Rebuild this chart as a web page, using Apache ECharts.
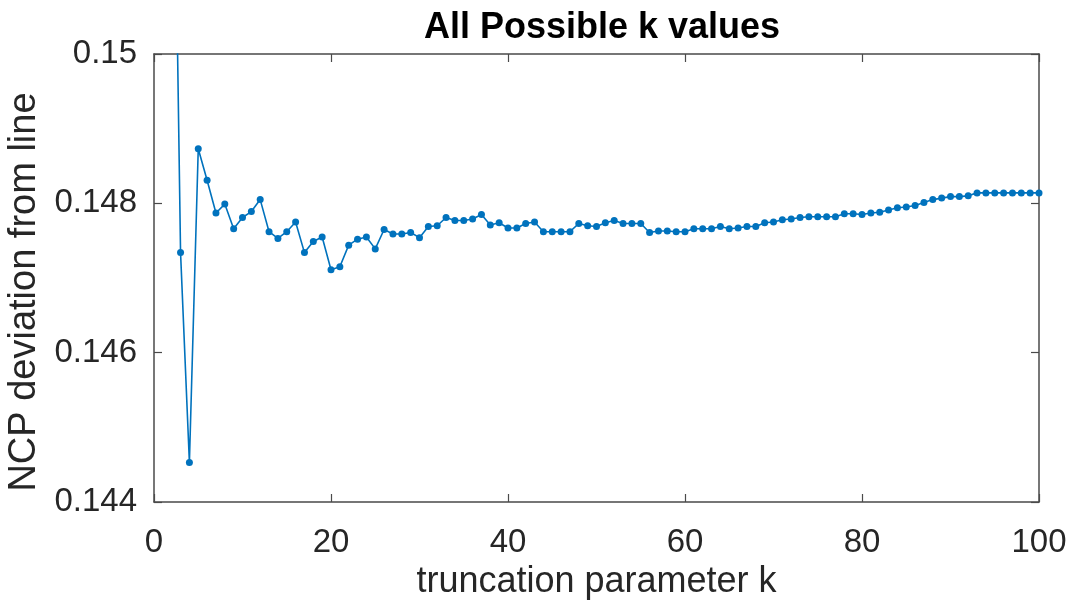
<!DOCTYPE html>
<html>
<head>
<meta charset="utf-8">
<script src="https://cdn.jsdelivr.net/npm/echarts@6/dist/echarts.min.js"></script>
<style>
  html, body { margin: 0; padding: 0; background: #fff; }
  #chart { width: 1070px; height: 608px; }
</style>
</head>
<body>
<div id="chart"></div>
<script>
// truncation parameter k
const kValues = [
  2, 3, 4, 5, 6, 7, 8, 9, 10, 11, 12, 13, 14, 15, 16, 17, 18, 19, 20,
  21, 22, 23, 24, 25, 26, 27, 28, 29, 30, 31, 32, 33, 34, 35, 36, 37, 38, 39, 40,
  41, 42, 43, 44, 45, 46, 47, 48, 49, 50, 51, 52, 53, 54, 55, 56, 57, 58, 59, 60,
  61, 62, 63, 64, 65, 66, 67, 68, 69, 70, 71, 72, 73, 74, 75, 76, 77, 78, 79, 80,
  81, 82, 83, 84, 85, 86, 87, 88, 89, 90, 91, 92, 93, 94, 95, 96, 97, 98, 99, 100
];

// NCP deviation from line for each k
const deviation = [
  0.15530, 0.14734, 0.14453, 0.14873, 0.14831, 0.14787, 0.14799, 0.14766, 0.14781,
  0.14789, 0.14805, 0.14762, 0.14753, 0.14762, 0.14775, 0.14734, 0.14749, 0.14755, 0.14711,
  0.14715, 0.14744, 0.14752, 0.14755, 0.14739, 0.14765, 0.14759, 0.14759, 0.14761, 0.14754,
  0.14769, 0.14770, 0.14781, 0.14777, 0.14777, 0.14779, 0.14785, 0.14771, 0.14774, 0.14767,
  0.14767, 0.14773, 0.14775, 0.14762, 0.14762, 0.14762, 0.14762, 0.14773, 0.14770, 0.14769,
  0.14774, 0.14777, 0.14773, 0.14773, 0.14773, 0.14761, 0.14763, 0.14763, 0.14762, 0.14762,
  0.14766, 0.14766, 0.14766, 0.14769, 0.14766, 0.14767, 0.14769, 0.14769, 0.14774, 0.14775,
  0.14778, 0.14779, 0.14781, 0.14782, 0.14782, 0.14782, 0.14782, 0.14786, 0.14786, 0.14785,
  0.14787, 0.14788, 0.14791, 0.14794, 0.14795, 0.14797, 0.14801, 0.14805, 0.14807, 0.14809,
  0.14809, 0.14810, 0.14814, 0.14814, 0.14814, 0.14814, 0.14814, 0.14814, 0.14814, 0.14814
];

const xTicks = [0, 20, 40, 60, 80, 100];
const yTicks = [0.144, 0.146, 0.148, 0.15];

const titleText = 'All Possible k values';
const xLabel = 'truncation parameter k';
const yLabel = 'NCP deviation from line';

const FONT = '"Liberation Sans", Arial, Helvetica, sans-serif';
const AXIS_COLOR = '#4a4a4a';
const TEXT_COLOR = '#262626';
const LINE_COLOR = '#0072BD';

const points = kValues.map((k, i) => [k, deviation[i]]);

const chart = echarts.init(document.getElementById('chart'), null, { renderer: 'canvas' });

const boxAxisLine = { show: true, onZero: false, lineStyle: { color: AXIS_COLOR, width: 1.5 } };
const boxTick = { show: true, inside: true, length: 8, lineStyle: { color: AXIS_COLOR, width: 1.2 } };

chart.setOption({
  animation: false,
  backgroundColor: '#ffffff',
  title: {
    text: titleText,
    left: 597,
    textAlign: 'center',
    top: 5,
    textStyle: { fontFamily: FONT, fontSize: 36, fontWeight: 'bold', color: '#000000' }
  },
  grid: { left: 154, right: 31, top: 54, bottom: 106, containLabel: false },
  // vertical axis title, drawn as free text so it can sit where the page puts it
  graphic: [
    {
      type: 'text',
      x: 25,
      y: 292,
      rotation: Math.PI / 2,
      style: {
        text: yLabel,
        fontFamily: FONT,
        fontSize: 38,
        fill: TEXT_COLOR,
        align: 'center',
        verticalAlign: 'middle'
      }
    }
  ],
  xAxis: [
    {
      type: 'value',
      min: xTicks[0],
      max: xTicks[xTicks.length - 1],
      interval: xTicks[1] - xTicks[0],
      position: 'bottom',
      name: xLabel,
      nameLocation: 'middle',
      nameGap: 52,
      nameTextStyle: { fontFamily: FONT, fontSize: 36, color: TEXT_COLOR },
      axisLine: boxAxisLine,
      axisTick: boxTick,
      splitLine: { show: false },
      axisLabel: { margin: 24, fontFamily: FONT, fontSize: 33, color: TEXT_COLOR }
    },
    {
      type: 'value',
      min: xTicks[0],
      max: xTicks[xTicks.length - 1],
      interval: xTicks[1] - xTicks[0],
      position: 'top',
      axisLine: boxAxisLine,
      axisTick: boxTick,
      splitLine: { show: false },
      axisLabel: { show: false }
    }
  ],
  yAxis: [
    {
      type: 'value',
      min: yTicks[0],
      max: yTicks[yTicks.length - 1],
      interval: 0.002,
      position: 'left',
      axisLine: boxAxisLine,
      axisTick: boxTick,
      splitLine: { show: false },
      axisLabel: {
        margin: 17,
        fontFamily: FONT,
        fontSize: 33,
        color: TEXT_COLOR,
        formatter: v => String(parseFloat(v.toFixed(3)))
      }
    },
    {
      type: 'value',
      min: yTicks[0],
      max: yTicks[yTicks.length - 1],
      interval: 0.002,
      position: 'right',
      axisLine: boxAxisLine,
      axisTick: boxTick,
      splitLine: { show: false },
      axisLabel: { show: false }
    }
  ],
  series: [
    {
      type: 'line',
      xAxisIndex: 0,
      yAxisIndex: 0,
      data: points,
      clip: true,
      symbol: 'circle',
      symbolSize: 7,
      showSymbol: true,
      lineStyle: { color: LINE_COLOR, width: 1.6 },
      itemStyle: { color: LINE_COLOR, borderWidth: 0 }
    }
  ]
});
</script>
</body>
</html>
